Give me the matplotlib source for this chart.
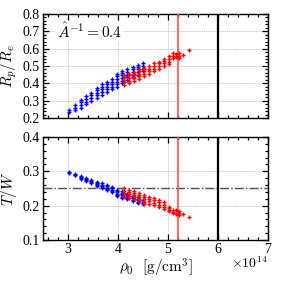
#!/usr/bin/env python3
"""Rp/Re and T/W against central density, two model sequences."""

import numpy as np
import matplotlib

matplotlib.use("Agg")
import matplotlib.pyplot as plt
from matplotlib.ticker import MultipleLocator

# central density columns, in units of 1e14 g/cm^3
RHO_BLUE = [3.02, 3.14, 3.25, 3.36, 3.46, 3.57, 3.67, 3.77, 3.88, 3.98, 4.08, 4.18, 4.29, 4.39, 4.49]
RP_BLUE = [
    [0.235, 0.248],
    [0.245, 0.26, 0.275],
    [0.26, 0.275, 0.29, 0.305],
    [0.28, 0.295, 0.31, 0.325],
    [0.30, 0.315, 0.33, 0.345],
    [0.315, 0.33, 0.345, 0.36, 0.375],
    [0.335, 0.35, 0.365, 0.38, 0.395],
    [0.35, 0.365, 0.38, 0.395, 0.41],
    [0.365, 0.38, 0.395, 0.41, 0.425],
    [0.38, 0.395, 0.41, 0.425, 0.44, 0.452],
    [0.40, 0.415, 0.43, 0.445, 0.46, 0.47],
    [0.42, 0.435, 0.45, 0.465, 0.48],
    [0.435, 0.45, 0.465, 0.48, 0.495],
    [0.45, 0.465, 0.48, 0.495, 0.505],
    [0.47, 0.485, 0.50, 0.515],
]
TW_BLUE = [
    [0.298, 0.296],
    [0.292, 0.290, 0.288],
    [0.286, 0.283, 0.280, 0.278],
    [0.280, 0.277, 0.274, 0.271],
    [0.274, 0.271, 0.268, 0.265],
    [0.270, 0.266, 0.263, 0.260, 0.257],
    [0.265, 0.261, 0.257, 0.254, 0.251],
    [0.260, 0.256, 0.252, 0.249, 0.246],
    [0.255, 0.251, 0.247, 0.243, 0.240],
    [0.247, 0.243, 0.239, 0.235, 0.231, 0.227],
    [0.242, 0.238, 0.234, 0.230, 0.226, 0.222],
    [0.235, 0.231, 0.227, 0.223, 0.219],
    [0.229, 0.225, 0.221, 0.217, 0.213],
    [0.224, 0.220, 0.216, 0.212, 0.208],
    [0.216, 0.212, 0.208, 0.204],
]

RHO_RED = [4.12, 4.22, 4.32, 4.42, 4.52, 4.62, 4.72, 4.82, 4.92, 5.02, 5.10, 5.16, 5.22, 5.30, 5.42]
RP_RED = [
    [0.39, 0.405, 0.42, 0.435, 0.445],
    [0.40, 0.415, 0.43, 0.445, 0.455],
    [0.415, 0.43, 0.445, 0.455, 0.465],
    [0.425, 0.44, 0.455, 0.47, 0.48],
    [0.44, 0.455, 0.47, 0.48, 0.49],
    [0.455, 0.47, 0.485, 0.50],
    [0.47, 0.485, 0.50, 0.515],
    [0.485, 0.50, 0.515, 0.525],
    [0.50, 0.515, 0.53, 0.54],
    [0.51, 0.525, 0.54, 0.555],
    [0.545, 0.56, 0.575],
    [0.55, 0.57],
    [0.545, 0.56, 0.575],
    [0.565],
    [0.592],
]
TW_RED = [
    [0.250, 0.244, 0.238, 0.232, 0.226],
    [0.246, 0.240, 0.234, 0.228, 0.222],
    [0.242, 0.236, 0.230, 0.224, 0.218],
    [0.238, 0.232, 0.226, 0.220, 0.214],
    [0.230, 0.224, 0.218, 0.212, 0.204],
    [0.226, 0.220, 0.214, 0.206],
    [0.222, 0.216, 0.209, 0.202],
    [0.216, 0.210, 0.203, 0.196],
    [0.210, 0.203, 0.196, 0.189],
    [0.196, 0.192, 0.188, 0.185],
    [0.187, 0.182, 0.178],
    [0.186, 0.177],
    [0.184, 0.179, 0.174],
    [0.176],
    [0.167],
]

RHO_RED_LINE = 5.19
RHO_BLACK_LINE = 6.0
TW_REF = 0.25
A_INV = 0.4


def flatten(rho, cols):
    xs, ys = [], []
    for r, col in zip(rho, cols):
        for v in col:
            xs.append(r)
            ys.append(v)
    return np.array(xs), np.array(ys)


def style_axis(ax, ymin, ymax, ymajor, yminor):
    ax.set_xlim(2.5, 7.0)
    ax.set_ylim(ymin, ymax)
    ax.xaxis.set_major_locator(MultipleLocator(1))
    ax.xaxis.set_minor_locator(MultipleLocator(0.2))
    ax.yaxis.set_major_locator(MultipleLocator(ymajor))
    ax.yaxis.set_minor_locator(MultipleLocator(yminor))
    ax.tick_params(which="both", direction="in", top=True, right=True, width=0.9, pad=2.5)
    ax.tick_params(which="major", length=4.5)
    ax.tick_params(which="minor", length=2.5)
    ax.grid(which="major", color="#c4c4c4", linestyle=(0, (1.5, 1)), linewidth=0.6)
    for sp in ax.spines.values():
        sp.set_linewidth(1.0)
    ax.axvline(RHO_RED_LINE, color="#ff5050", linewidth=1.5, alpha=0.85, zorder=3)
    ax.axvline(RHO_BLACK_LINE, color="black", linewidth=1.6, zorder=3)


def main():
    plt.rcParams.update(
        {
            "font.family": "serif",
            "font.serif": ["Liberation Serif", "DejaVu Serif"],
            "mathtext.fontset": "cm",
            "font.size": 10,
            "xtick.labelsize": 10,
            "ytick.labelsize": 10,
        }
    )

    fig = plt.figure(figsize=(2.83, 2.83), dpi=100)
    ax1 = fig.add_axes([0.152, 0.583, 0.795, 0.368])
    ax2 = fig.add_axes([0.152, 0.152, 0.795, 0.364])

    xb, yb = flatten(RHO_BLUE, RP_BLUE)
    xr, yr = flatten(RHO_RED, RP_RED)
    mk = dict(linestyle="none", marker="+", markersize=3.2, markeredgewidth=1.0, zorder=4)
    ax1.plot(xb, yb, color="#0000ff", **mk)
    ax1.plot(xr, yr, color="#ff0000", **mk)

    xb, yb = flatten(RHO_BLUE, TW_BLUE)
    xr, yr = flatten(RHO_RED, TW_RED)
    ax2.plot(xb, yb, color="#0000ff", **mk)
    ax2.plot(xr, yr, color="#ff0000", **mk)

    style_axis(ax1, 0.2, 0.8, 0.1, 0.02)
    style_axis(ax2, 0.1, 0.4, 0.1, 0.02)
    ax2.axhline(TW_REF, color="#505050", linestyle="-.", linewidth=1.0, zorder=2)

    ax1.set_xticklabels([])
    ax1.set_ylabel(r"$R_p/R_e$", fontsize=11)
    ax2.set_ylabel(r"$T/W$", fontsize=11)
    ax1.yaxis.set_label_coords(-0.105, 0.5)
    ax2.yaxis.set_label_coords(-0.105, 0.5)
    ax2.set_xlabel(r"$\rho_0\ \ [\mathrm{g/cm^3}]$", fontsize=11, labelpad=0)

    ax1.text(2.78, 0.7, r"$\hat{A}^{-1} = %.1f$" % A_INV, fontsize=11, va="center", ha="left",
             bbox=dict(facecolor="white", edgecolor="none", pad=0.5), zorder=5)
    fig.text(0.947, 0.07, r"$\times 10^{14}$", fontsize=10, ha="right", va="center")

    fig.savefig("out.png", dpi=100)


if __name__ == "__main__":
    main()
